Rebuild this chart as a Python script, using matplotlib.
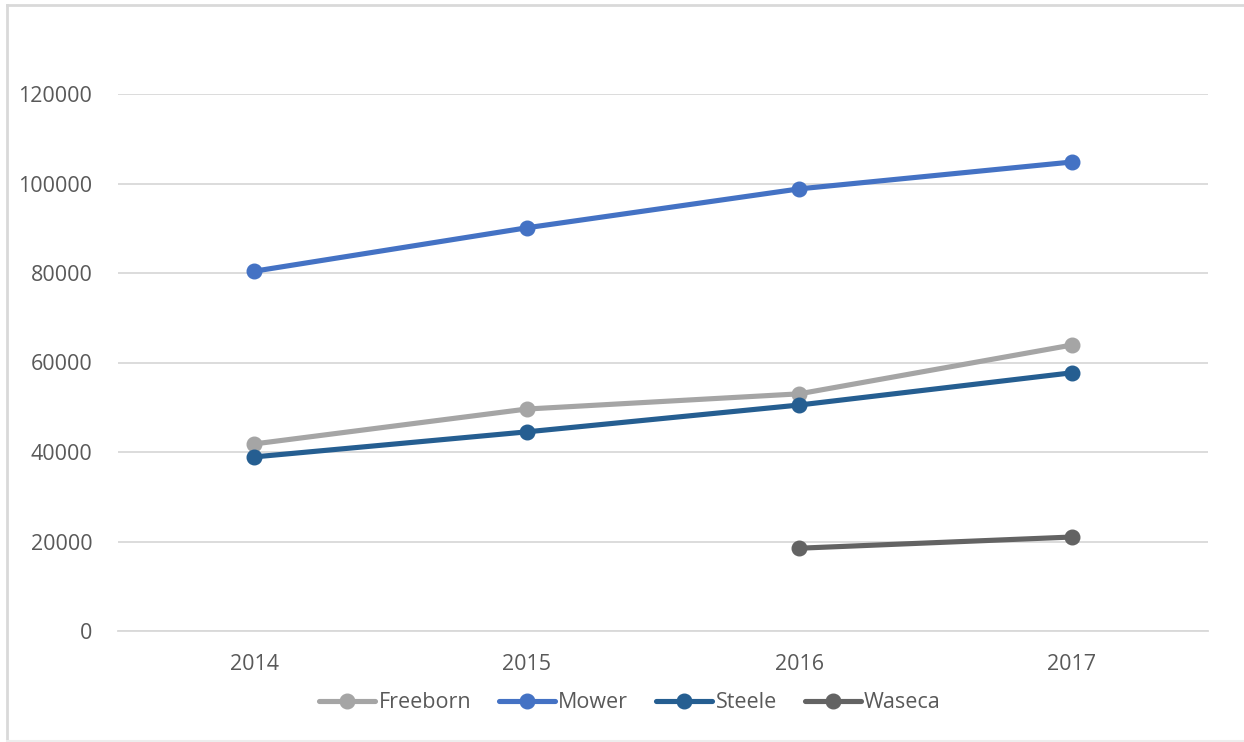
import matplotlib
matplotlib.use("Agg")
import matplotlib.pyplot as plt
import numpy as np
from matplotlib.lines import Line2D

years = ["2014", "2015", "2016", "2017"]
freeborn = [41800, 49600, 53000, 63900]
mower = [80400, 90100, 98800, 104800]
steele = [38900, 44500, 50500, 57700]
waseca = [np.nan, np.nan, 18500, 21000]
y_ticks = [0, 20000, 40000, 60000, 80000, 100000, 120000]

series = [
    ("Freeborn", freeborn, "#A5A5A5"),
    ("Mower", mower, "#4472C4"),
    ("Steele", steele, "#255E91"),
    ("Waseca", waseca, "#636363"),
]

plt.rcParams["font.family"] = ["Open Sans", "DejaVu Sans"]

W, H = 1244, 742
fig = plt.figure(figsize=(W / 100, H / 100), dpi=100)
ax = fig.add_axes([118 / W, 1 - 631 / H, (1208 - 118) / W, (631 - 94) / H])

x = np.arange(len(years))
for name, vals, color in series:
    ax.plot(x, vals, color=color, lw=3.7, marker="o", markersize=10.5,
            label=name, solid_capstyle="round", zorder=3)

ax.set_xlim(-0.5, len(years) - 0.5)
ax.set_ylim(0, 120000)
ax.set_yticks(y_ticks)
ax.set_yticklabels([str(v) for v in y_ticks])
ax.set_xticks(x)
ax.set_xticklabels(years)
ax.grid(axis="y", color="#D9D9D9", lw=1.3, zorder=0)
for side in ["top", "right", "left"]:
    ax.spines[side].set_visible(False)
ax.spines["bottom"].set_color("#D9D9D9")
ax.spines["bottom"].set_linewidth(1.3)
ax.tick_params(axis="both", length=0, labelsize=15.5, labelcolor="#595959")
ax.tick_params(axis="y", pad=18.5)
ax.tick_params(axis="x", pad=16.5)

fig.legend(loc="center", bbox_to_anchor=(630 / W, 1 - 703 / H), ncol=4,
           frameon=False, fontsize=15.5, handlelength=2.6, handletextpad=0.15,
           columnspacing=1.3, labelcolor="#595959")

# chart area outline (open on the right)
border = dict(transform=fig.transFigure, color="#D9D9D9", lw=2)
fig.add_artist(Line2D([7 / W, 1], [1 - 5 / H, 1 - 5 / H], **border))
fig.add_artist(Line2D([7 / W, 7 / W], [1 - 5 / H, 1 - 741 / H], **border))
fig.add_artist(Line2D([7 / W, 1], [1 - 741 / H, 1 - 741 / H],
                      transform=fig.transFigure, color="#EDEDED", lw=1.5))

fig.savefig("out.png", dpi=100, facecolor="white")
